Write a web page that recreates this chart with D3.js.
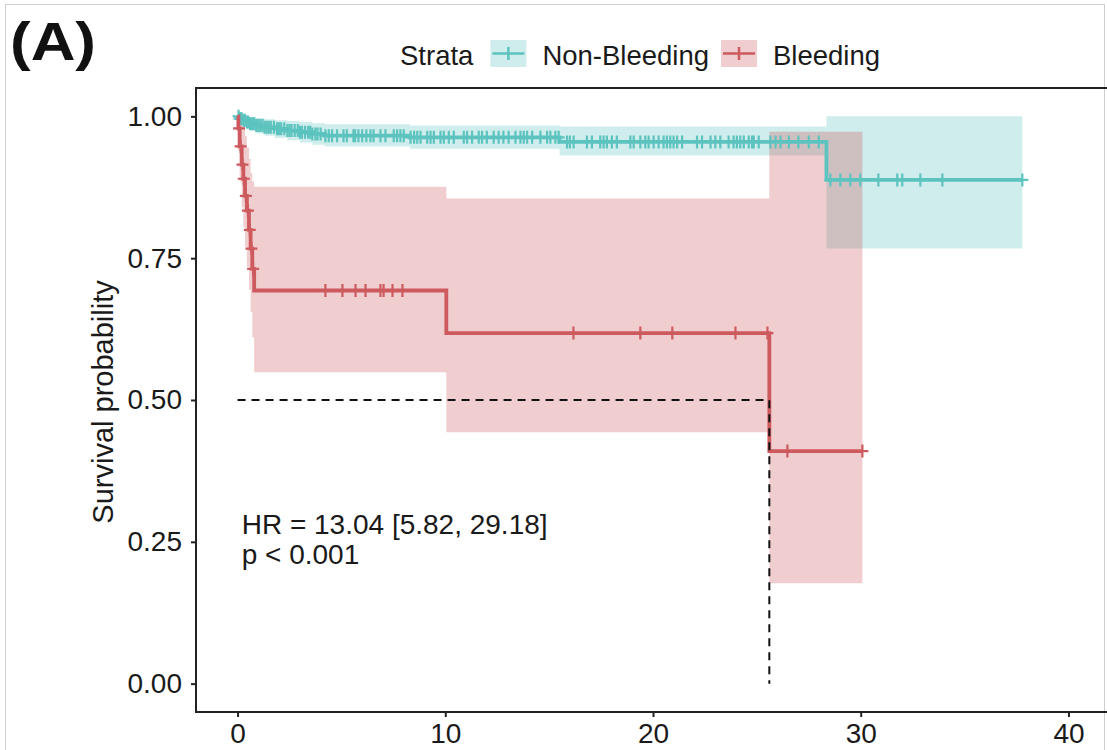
<!DOCTYPE html>
<html>
<head>
<meta charset="utf-8">
<script src="https://cdn.jsdelivr.net/npm/d3@7"></script>
<style>
  body { margin: 0; background: #fff; }
  svg { display: block; font-family: "Liberation Sans", Arial, Helvetica, sans-serif; }
</style>
</head>
<body>
<script>
// courbes de survie (Kaplan-Meier)

// Non-Bleeding : temps des événements, survie, IC
let nbTime  = [0, 0.1, 0.25, 0.4, 0.6, 0.9, 1.3, 1.8, 2.4, 3.0, 3.6, 4.2, 8.3, 15.5, 28.35]
let nbSurv  = [1, 0.996, 0.993, 0.99, 0.987, 0.984, 0.981, 0.978, 0.975, 0.972, 0.969, 0.966, 0.963, 0.955, 0.888]
let nbLower = [1, 0.99, 0.985, 0.98, 0.975, 0.97, 0.966, 0.962, 0.958, 0.954, 0.95, 0.947, 0.943, 0.931, 0.767]
let nbUpper = [1, 1, 1, 1, 0.999, 0.997, 0.995, 0.993, 0.992, 0.99, 0.988, 0.986, 0.984, 0.982, 1.0]
let nbEnd = 37.78
let nbCensor = [0.05, 0.1, 0.15, 0.2, 0.3, 0.35, 0.45, 0.5, 0.6, 0.7, 0.8, 0.9, 1.0, 1.1, 1.2, 1.3, 1.4, 1.5,
  1.6, 1.75, 1.9, 2.0, 2.1, 2.25, 2.4, 2.5, 2.6, 2.75, 2.9, 3.0, 3.1, 3.25, 3.4, 3.5, 3.6, 3.75, 3.85, 4.0,
  4.23, 4.39, 4.55, 4.79, 5.1, 5.26, 5.58, 5.66, 5.82, 6.0, 6.2, 6.4, 6.55, 6.88, 7.12, 7.52, 7.68, 7.84,
  8.0, 8.33, 8.5, 8.65, 8.81, 9.13, 9.29, 9.45, 9.77, 9.93, 10.17, 10.41, 10.89, 11.05, 11.29, 11.61,
  11.77, 12.0, 12.33, 12.57, 12.8, 13.05, 13.38, 13.62, 13.78, 13.94, 14.18, 14.58, 14.9, 15.06, 15.3,
  15.46, 15.86, 16.0, 16.18, 16.82, 17.06, 17.46, 17.62, 17.78, 18.02, 18.26, 18.91, 19.07, 19.39, 19.63,
  19.79, 20.03, 20.27, 20.51, 20.67, 20.83, 20.99, 21.16, 21.4, 22.12, 22.36, 22.77, 23.0, 23.24, 23.64,
  23.88, 24.04, 24.2, 24.37, 24.61, 24.77, 24.85, 25.09, 25.65, 25.9, 26.14, 26.54, 27.0, 27.5, 27.98,
  28.54, 29.02, 29.5, 29.98, 30.85, 31.76, 32.0, 32.87, 33.93, 37.78]

// Bleeding
let bTime  = [0, 0.04, 0.1, 0.2, 0.28, 0.36, 0.45, 0.55, 0.63, 0.71, 0.8, 10.05, 25.6]
let bSurv  = [1, 0.979, 0.947, 0.915, 0.89, 0.86, 0.834, 0.8, 0.767, 0.731, 0.693, 0.618, 0.41]
let bLower = [1, 0.94, 0.885, 0.84, 0.805, 0.77, 0.735, 0.695, 0.655, 0.61, 0.549, 0.443, 0.177]
let bUpper = [1, 1, 1, 0.995, 0.985, 0.965, 0.945, 0.925, 0.9, 0.885, 0.876, 0.855, 0.973]
let bEnd = 30.08
let bCensor = [0.07, 0.15, 0.24, 0.3, 0.4, 0.5, 0.59, 0.67, 0.75, 4.23, 5.05, 5.68, 6.16, 6.88, 7.03,
  7.46, 7.94, 16.17, 19.39, 20.93, 23.97, 25.51, 26.47, 30.08]

let medianTime = 25.6

// axes
let xTicks = [0, 10, 20, 30, 40]
let yTicks = [0, 0.25, 0.5, 0.75, 1]

let strata = ["Non-Bleeding", "Bleeding"]
let couleurs = ["#5cc3bf", "#cd5a5e"]

let width = 1107, height = 750
let panel = { left: 196, right: 1110, top: 88, bottom: 712 }

let svg = d3.select("body").append("svg")
  .attr("width", width)
  .attr("height", height)

// cadre gris de l'image
svg.append("rect")
  .attr("x", 5.5).attr("y", 4.5)
  .attr("width", 1099).attr("height", 800)
  .attr("fill", "none").attr("stroke", "#cfcfcf").attr("stroke-width", 1)

let x = d3.scaleLinear().domain([-2, 42]).range([panel.left, panel.right])
let y = d3.scaleLinear().domain([-0.05, 1.05]).range([panel.bottom, panel.top])

function rows(time, surv, lower, upper, fin) {
  let r = time.map((t, i) => ({ t: t, s: surv[i], lo: lower[i], hi: upper[i] }))
  let last = r[r.length - 1]
  r.push({ t: fin, s: last.s, lo: last.lo, hi: last.hi })
  return r
}

function survieA(time, surv, t) {
  let s = surv[0]
  for (let i = 0; i < time.length; i++) {
    if (time[i] <= t) s = surv[i]
  }
  return s
}

let courbes = [
  { nom: strata[0], data: rows(nbTime, nbSurv, nbLower, nbUpper, nbEnd), time: nbTime, surv: nbSurv, censor: nbCensor, col: couleurs[0] },
  { nom: strata[1], data: rows(bTime, bSurv, bLower, bUpper, bEnd), time: bTime, surv: bSurv, censor: bCensor, col: couleurs[1] }
]

let plot = svg.append("g")
svg.append("defs").append("clipPath").attr("id", "clip")
  .append("rect").attr("x", panel.left).attr("y", panel.top)
  .attr("width", panel.right - panel.left).attr("height", panel.bottom - panel.top)
plot.attr("clip-path", "url(#clip)")

let aire = d3.area().curve(d3.curveStepAfter)
  .x(d => x(d.t)).y0(d => y(d.lo)).y1(d => y(d.hi))
let ligne = d3.line().curve(d3.curveStepAfter)
  .x(d => x(d.t)).y(d => y(d.s))

// intervalles de confiance
courbes.forEach(c => {
  plot.append("path")
    .attr("d", aire(c.data))
    .attr("fill", c.col)
    .attr("fill-opacity", 0.3)
})

// courbes + marques de censure
courbes.forEach(c => {
  plot.append("path")
    .attr("d", ligne(c.data))
    .attr("fill", "none")
    .attr("stroke", c.col)
    .attr("stroke-width", 3.8)

  plot.selectAll(null)
    .data(c.censor)
    .enter()
    .append("path")
    .attr("d", t => {
      let cx = x(t), cy = y(survieA(c.time, c.surv, t))
      return "M" + (cx - 6) + "," + cy + "H" + (cx + 6) + "M" + cx + "," + (cy - 6.5) + "V" + (cy + 6.5)
    })
    .attr("stroke", c.col)
    .attr("stroke-width", 2.2)
    .attr("fill", "none")
})

// médiane
plot.append("path")
  .attr("d", "M" + x(0) + "," + y(0.5) + "H" + x(medianTime) + "V" + y(0))
  .attr("fill", "none")
  .attr("stroke", "#111")
  .attr("stroke-width", 2)
  .attr("stroke-dasharray", "8,6")

// cadre du panneau
svg.append("rect")
  .attr("x", panel.left).attr("y", panel.top)
  .attr("width", panel.right - panel.left).attr("height", panel.bottom - panel.top)
  .attr("fill", "none").attr("stroke", "#222").attr("stroke-width", 2)

// axe Y
let yAxis = svg.append("g")
  .attr("transform", "translate(" + panel.left + ",0)")
  .call(d3.axisLeft(y).tickValues(yTicks).tickFormat(d3.format(".2f")).tickSize(5).tickPadding(9))
yAxis.select(".domain").remove()
yAxis.selectAll("line").attr("stroke", "#222").attr("stroke-width", 2)
yAxis.selectAll("text").attr("font-size", 28).attr("fill", "#1a1a1a").attr("font-family", null)

// axe X
let xAxis = svg.append("g")
  .attr("transform", "translate(0," + panel.bottom + ")")
  .call(d3.axisBottom(x).tickValues(xTicks).tickSize(5).tickPadding(6))
xAxis.select(".domain").remove()
xAxis.selectAll("line").attr("stroke", "#222").attr("stroke-width", 2)
xAxis.selectAll("text").attr("font-size", 28).attr("fill", "#1a1a1a").attr("font-family", null)

// titre Y
svg.append("text")
  .attr("transform", "translate(113," + (402) + ") rotate(-90)")
  .attr("text-anchor", "middle")
  .attr("font-size", 29)
  .attr("fill", "#1a1a1a")
  .text("Survival probability")

// HR et p
svg.append("text").attr("x", x(0.2)).attr("y", 534).attr("font-size", 28).attr("fill", "#1a1a1a")
  .text("HR = 13.04 [5.82, 29.18]")
svg.append("text").attr("x", x(0.2)).attr("y", 564).attr("font-size", 28).attr("fill", "#1a1a1a")
  .text("p < 0.001")

// (A)
svg.append("text").attr("x", 10).attr("y", 60)
  .attr("font-size", 54).attr("font-weight", "bold").attr("fill", "#111")
  .attr("textLength", 86).attr("lengthAdjust", "spacingAndGlyphs")
  .text("(A)")

// légende
let leg = svg.append("g").attr("transform", "translate(400,0)")
let lx = 0
let t0 = leg.append("text").attr("x", lx).attr("y", 65).attr("font-size", 27.5).attr("fill", "#1a1a1a").text("Strata")
lx += t0.node().getComputedTextLength() + 17
strata.forEach((s, i) => {
  let k = leg.append("g").attr("transform", "translate(" + lx + ",40)")
  k.append("rect").attr("width", 36).attr("height", 27).attr("fill", couleurs[i]).attr("fill-opacity", 0.3)
  k.append("path").attr("d", "M2,13.5H34M18,7V20").attr("stroke", couleurs[i]).attr("stroke-width", 2.5)
  lx += 52
  let tt = leg.append("text").attr("x", lx).attr("y", 65).attr("font-size", 27.5).attr("fill", "#1a1a1a").text(s)
  lx += tt.node().getComputedTextLength() + 12
})
</script>
</body>
</html>
